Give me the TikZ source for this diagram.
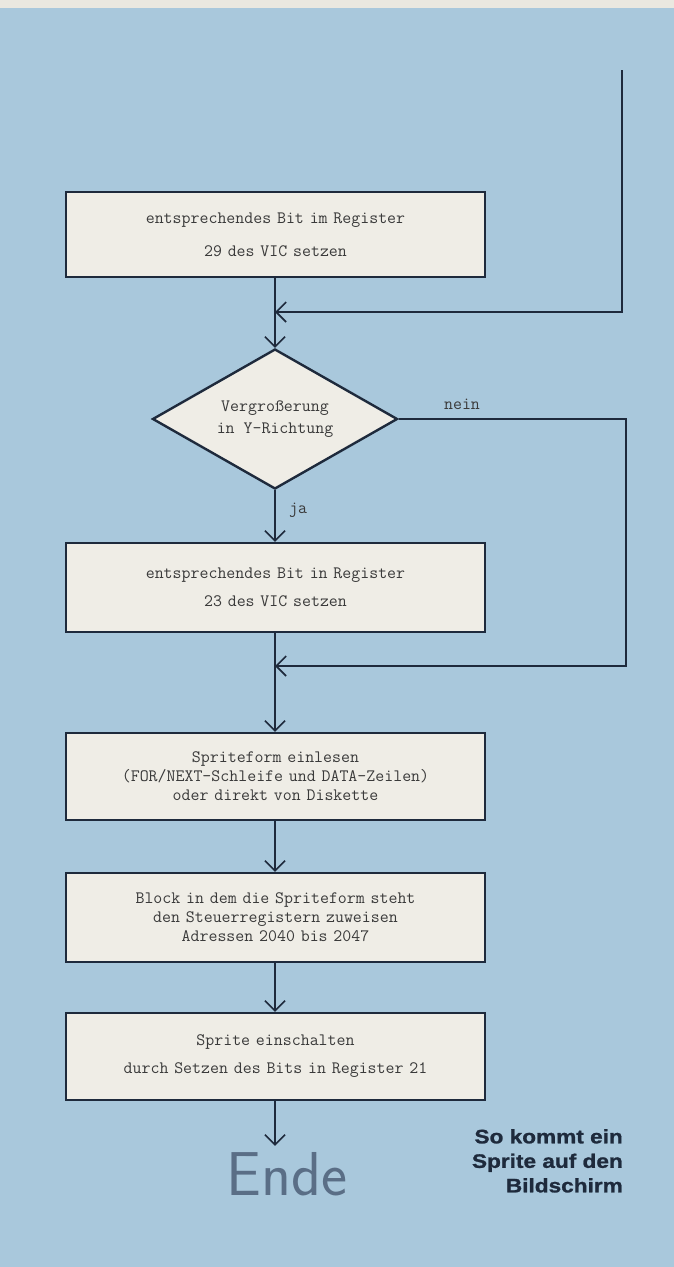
\documentclass[tikz,border=0pt]{standalone}
\usepackage{fontspec}
\newfontfamily\capfont[FakeStretch=1.16,FakeBold=1.2]{Liberation Sans}
\usetikzlibrary{shapes.geometric,arrows.meta}
\definecolor{bgblue}{HTML}{A9C8DC}
\definecolor{paper}{HTML}{EAE8E0}
\definecolor{boxfill}{HTML}{EFEDE6}
\definecolor{ink}{HTML}{1E2A3C}
\definecolor{txt}{HTML}{3A3A3A}
\definecolor{endcol}{HTML}{5A6E86}
\newcommand\flowfont{\fontsize{17.4}{19}\selectfont\ttfamily}
\begin{document}
\begin{tikzpicture}[x=1pt,y=-1pt,
  conn/.style={draw=ink, line width=1.6pt},
  arr/.style={-{Straight Barb[length=10pt,width=20pt]}},
  procbox/.style={draw=ink, line width=2.4pt, fill=boxfill, minimum width=419pt,
    inner sep=0pt, text width=405pt, align=center, font=\flowfont, text=txt},
  decision/.style={diamond, shape aspect=1.75, draw=ink, line width=2.4pt, fill=boxfill,
    minimum width=245pt, minimum height=140pt, inner sep=0pt, align=center,
    font=\fontsize{17.4}{22}\selectfont\ttfamily, text=txt},
  lbl/.style={font=\flowfont, text=txt, inner sep=0pt}
]
\useasboundingbox (0,0) rectangle (674,1267);
\fill[bgblue] (0,0) rectangle (674,1267);
\fill[paper] (0,0) rectangle (674,8);

% boxes
\node[procbox, minimum height=85pt] (b1) at (275.5,234.5)
  {entsprechendes Bit im Register\\[14pt]29 des VIC setzen};
\node[decision] (dia) at (275,419) {Vergroßerung\\in Y-Richtung};
\node[procbox, minimum height=89pt] (b2) at (275.5,587.5)
  {entsprechendes Bit in Register\\[9pt]23 des VIC setzen};
\node[procbox, minimum height=87pt] (b3) at (275.5,776.5)
  {Spriteform einlesen\\(FOR/NEXT-Schleife und DATA-Zeilen)\\oder direkt von Diskette};
\node[procbox, minimum height=89pt] (b4) at (275.5,917.5)
  {Block in dem die Spriteform steht\\den Steuerregistern zuweisen\\Adressen 2040 bis 2047};
\node[procbox, minimum height=87pt] (b5) at (275.5,1056.5)
  {Sprite einschalten\\[9pt]durch Setzen des Bits in Register 21};
\node[anchor=base, inner sep=0pt, font=\fontsize{62}{66}\selectfont\sffamily, text=endcol]
  (ende) at (287,1195) {Ende};
\node[anchor=north east, inner sep=0pt, align=right,
  font=\fontsize{19.5}{24.5}\selectfont\capfont\bfseries, text=ink]
  (cap) at (623,1129) {So kommt ein\\Sprite auf den\\Bildschirm};

% labels
\node[lbl] (nein) at (462,404) {nein};
\node[lbl] (ja) at (298,510) {ja};

% connectors
\coordinate (topin) at (622,70);
\coordinate (c1) at (622,312);
\coordinate (c2) at (626,666);
\coordinate (m1) at (dia.north |- c1);
\coordinate (m2) at (dia.south |- c2);
\coordinate (c3) at (dia.east -| c2);
\draw[conn,arr] (topin) -- (c1) -- (m1);
\draw[conn,arr] (b1.south -| dia.north) -- (dia.north);
\draw[conn,arr] (dia.south) -- (b2.north -| dia.south);
\draw[conn,arr] (dia.east) -- (c3) -- (c2) -- (m2);
\draw[conn,arr] (b2.south -| dia.south) -- (b3.north -| dia.south);
\draw[conn,arr] (b3.south -| dia.south) -- (b4.north -| dia.south);
\draw[conn,arr] (b4.south -| dia.south) -- (b5.north -| dia.south);
\draw[conn,arr,shorten >=6pt] (b5.south -| dia.south) -- (ende.north -| dia.south);
\end{tikzpicture}
\end{document}
